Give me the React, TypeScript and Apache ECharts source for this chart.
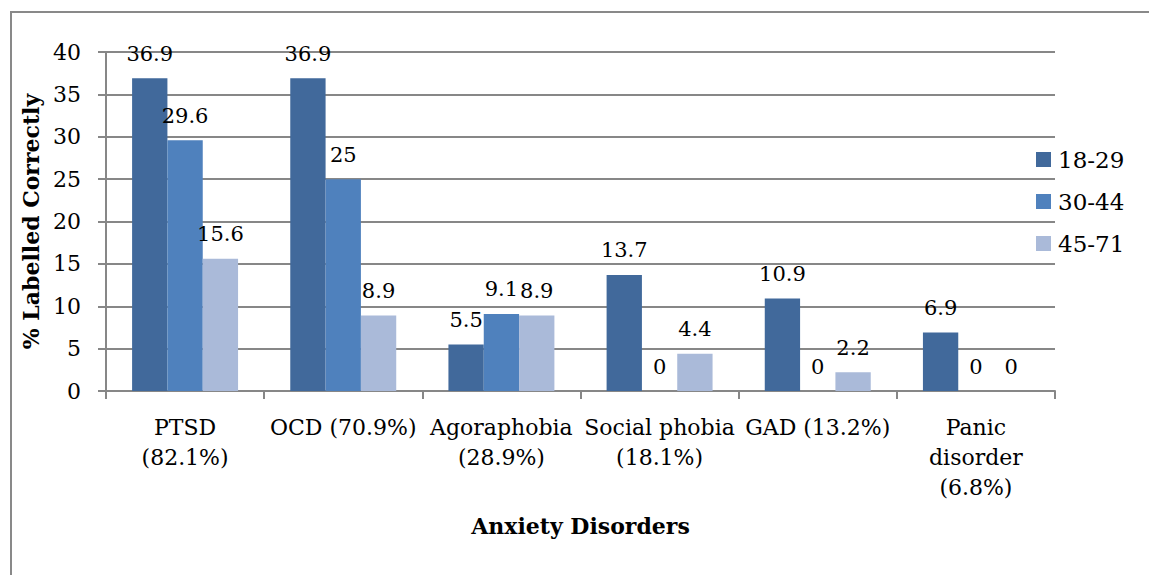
import React, { useEffect, useRef } from "react";
import * as echarts from "echarts";

const categories = [
  "PTSD\n(82.1%)",
  "OCD (70.9%)",
  "Agoraphobia\n(28.9%)",
  "Social phobia\n(18.1%)",
  "GAD (13.2%)",
  "Panic\ndisorder\n(6.8%)",
];
const seriesNames = ["18-29", "30-44", "45-71"];
const values1829 = [36.9, 36.9, 5.5, 13.7, 10.9, 6.9];
const values3044 = [29.6, 25, 9.1, 0, 0, 0];
const values4571 = [15.6, 8.9, 8.9, 4.4, 2.2, 0];
const colors = ["#41699B", "#4F81BD", "#AABAD9"];
const yTicks = { min: 0, max: 40, interval: 5 };

const FONT = "DejaVu Serif";

export default function App() {
  const ref = useRef<HTMLDivElement>(null);
  useEffect(() => {
    if (!ref.current) return;
    const chart = echarts.init(ref.current, null, { renderer: "svg" });
    const dataSets = [values1829, values3044, values4571];
    chart.setOption({
      animation: false,
      backgroundColor: "#ffffff",
      textStyle: { fontFamily: FONT, color: "#000" },
      graphic: [
        {
          type: "rect",
          shape: { x: 11, y: 12, width: 1300, height: 700 },
          style: { fill: "none", stroke: "#898989", lineWidth: 2 },
          silent: true,
        },
      ],
      grid: { left: 106, right: 94, top: 52, bottom: 184, containLabel: false },
      legend: {
        orient: "vertical",
        left: 1036,
        top: 148,
        padding: 0,
        itemWidth: 15,
        itemHeight: 15,
        itemGap: 19,
        icon: "rect",
        textStyle: { fontFamily: FONT, fontSize: 23, color: "#000", lineHeight: 23, padding: [0, 0, 0, 2] },
        data: seriesNames,
      },
      xAxis: {
        type: "category",
        data: categories,
        name: "Anxiety Disorders",
        nameLocation: "middle",
        nameGap: 124,
        nameTextStyle: { fontFamily: FONT, fontSize: 22, fontWeight: "bold", color: "#000" },
        axisLine: { lineStyle: { color: "#878787", width: 2 } },
        axisTick: { show: true, length: 8, alignWithLabel: false, lineStyle: { color: "#878787", width: 2 } },
        axisLabel: { fontFamily: FONT, fontSize: 22, color: "#000", margin: 21, lineHeight: 30, interval: 0 },
      },
      yAxis: {
        type: "value",
        min: yTicks.min,
        max: yTicks.max,
        interval: yTicks.interval,
        name: "% Labelled Correctly",
        nameLocation: "middle",
        nameGap: 61,
        nameTextStyle: { fontFamily: FONT, fontSize: 22, fontWeight: "bold", color: "#000" },
        axisLine: { show: true, lineStyle: { color: "#878787", width: 2 } },
        axisTick: { show: true, length: 8, lineStyle: { color: "#878787", width: 2 } },
        axisLabel: { fontFamily: FONT, fontSize: 22, color: "#000", margin: 25 },
        splitLine: { show: true, lineStyle: { color: "#878787", width: 2 } },
      },
      series: seriesNames.map((name, i) => ({
        name,
        type: "bar",
        data: dataSets[i],
        barGap: "0%",
        barCategoryGap: "33%",
        itemStyle: { color: colors[i] },
        label: {
          show: true,
          position: "top",
          distance: 14,
          fontFamily: FONT,
          fontSize: 21,
          color: "#000",
        },
      })),
    });
    return () => chart.dispose();
  }, []);
  return (
    <div
      ref={ref}
      style={{ position: "fixed", left: 0, top: 0, width: 1149, height: 575 }}
    />
  );
}
